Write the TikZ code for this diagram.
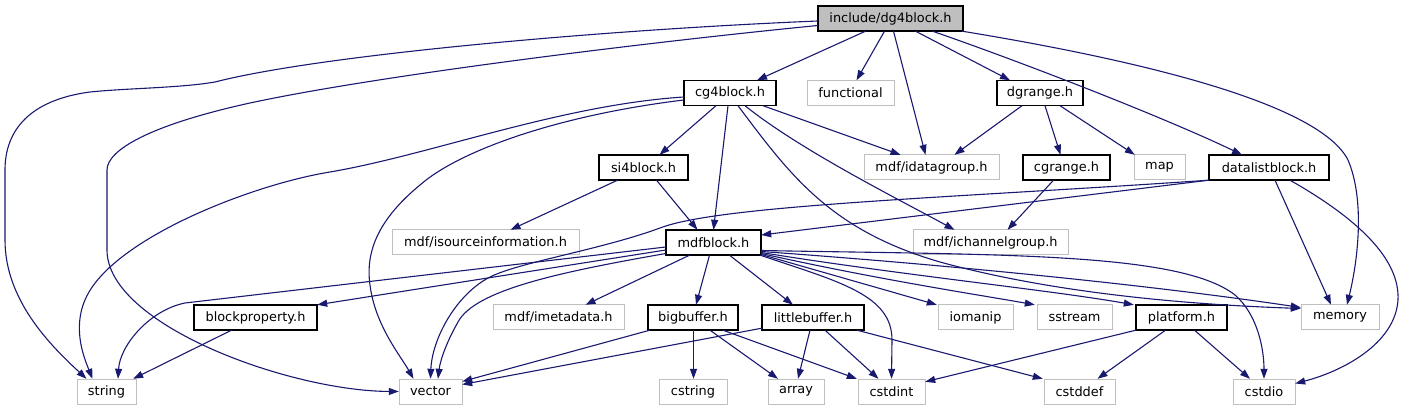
\documentclass[tikz,border=0pt]{standalone}
\usepackage{fontspec}
\setmainfont{DejaVu Sans}
\usetikzlibrary{arrows.meta}
\definecolor{edgeblue}{HTML}{191970}
\definecolor{extgray}{HTML}{BFBFBF}
\tikzset{
  box/.style={rectangle, inner sep=0pt, minimum height=25pt, font=\fontsize{12.9}{15}\selectfont, text=black},
  intbox/.style={box, preaction={draw=black, line width=1.2pt}},
  extbox/.style={box, preaction={draw=extgray, line width=1pt}},
  rootbox/.style={box, preaction={fill=extgray, draw=black, line width=1.2pt}},
  dep/.style={draw=edgeblue, line width=1.1pt, -{Triangle[length=10pt,width=7pt]}},
}
\begin{document}
\begin{tikzpicture}[x=1pt,y=-1pt]
\useasboundingbox (0,0) rectangle (1405,411);
% nodes
\node[rootbox, minimum width=145pt] (D) at (890.5,18.5) {include/dg4block.h};
\node[intbox, minimum width=92pt] (C) at (730,93) {cg4block.h};
\node[extbox, minimum width=87pt] (functional) at (850.5,93) {functional};
\node[intbox, minimum width=86pt] (G) at (1040,93) {dgrange.h};
\node[intbox, minimum width=89pt] (S) at (643.5,167.5) {si4block.h};
\node[extbox, minimum width=135pt] (idg) at (931.5,167.5) {mdf/idatagroup.h};
\node[intbox, minimum width=87pt] (CR) at (1066.5,167.5) {cgrange.h};
\node[extbox, minimum width=51pt] (map) at (1159.5,167.5) {map};
\node[intbox, minimum width=120pt] (L) at (1269,167.5) {datalistblock.h};
\node[extbox, minimum width=187pt] (isi) at (485.5,242.5) {mdf/isourceinformation.h};
\node[intbox, minimum width=95pt] (M) at (713.5,242.5) {mdfblock.h};
\node[extbox, minimum width=155pt] (icg) at (990.5,242.5) {mdf/ichannelgroup.h};
\node[intbox, minimum width=123pt] (BP) at (255.5,317.5) {blockproperty.h};
\node[extbox, minimum width=131pt] (imd) at (558.5,317.5) {mdf/imetadata.h};
\node[intbox, minimum width=90pt] (B) at (693,317.5) {bigbuffer.h};
\node[intbox, minimum width=102pt] (LB) at (813,317.5) {littlebuffer.h};
\node[extbox, minimum width=75pt] (iomanip) at (975.5,317.5) {iomanip};
\node[extbox, minimum width=75pt] (sstream) at (1074.5,317.5) {sstream};
\node[intbox, minimum width=91pt] (P) at (1181.5,317.5) {platform.h};
\node[extbox, minimum width=78pt] (memory) at (1340,317.5) {memory};
\node[extbox, minimum width=59pt] (string) at (106.5,391.5) {string};
\node[extbox, minimum width=63pt] (vector) at (430.5,391.5) {vector};
\node[extbox, minimum width=68pt] (cstring) at (693,391.5) {cstring};
\node[extbox, minimum width=56pt] (array) at (796,391.5) {array};
\node[extbox, minimum width=67pt] (cstdint) at (891.5,391.5) {cstdint};
\node[extbox, minimum width=71pt] (cstddef) at (1079.5,391.5) {cstddef};
\node[extbox, minimum width=62pt] (cstdio) at (1264,391.5) {cstdio};
% edges from include/dg4block.h
\draw[dep] ([yshift=-2.5pt]D.west) .. controls (600,30) and (320,55) .. (215,82) .. controls (180,88) and (130,88) .. (90,92) .. controls (30,100) and (5,130) .. (5,170) -- (5,240) .. controls (5,300) and (50,345) .. ([xshift=-20pt]string.north);
\draw[dep] ([yshift=-7pt]D.west) .. controls (650,42) and (380,75) .. (250,103) .. controls (150,125) and (107,150) .. (107,170) -- (107,250) .. controls (107,325) and (290,391) .. (vector.west);
\draw[dep] ([xshift=-25pt]D.south) -- ([xshift=27pt]C.north);
\draw[dep] ([xshift=-6pt]D.south) -- ([xshift=6pt]functional.north);
\draw[dep] ([xshift=3pt]D.south) -- ([xshift=-6pt]idg.north);
\draw[dep] ([xshift=25pt]D.south) -- ([xshift=-30pt]G.north);
\draw[dep] ([xshift=42pt]D.south) .. controls (1030,65) and (1170,120) .. ([xshift=-27pt]L.north);
\draw[dep] ([xshift=-1pt]D.south east) .. controls (1150,62) and (1320,105) .. (1348,160) .. controls (1365,200) and (1358,260) .. ([xshift=7pt]memory.north);
% edges from cg4block.h
\draw[dep] ([xshift=-14pt]C.south) -- ([xshift=16pt]S.north);
\draw[dep] ([xshift=33pt]C.south) -- ([xshift=-31pt]idg.north);
\draw[dep] ([xshift=-2pt]C.south) -- (M.north);
\draw[dep] ([yshift=-4pt]C.west) .. controls (560,105) and (430,155) .. (330,172) .. controls (250,185) and (110,240) .. (85,300) .. controls (72,330) and (85,360) .. ([xshift=-14pt]string.north);
\draw[dep] ([yshift=-7pt]C.west) .. controls (560,115) and (460,150) .. (420,185) .. controls (380,218) and (365,250) .. (370,285) .. controls (375,325) and (400,355) .. ([xshift=-17pt]vector.north);
\draw[dep] ([xshift=15pt]C.south) .. controls (800,150) and (900,200) .. ([xshift=-36pt]icg.north);
\draw[dep] ([xshift=8pt]C.south) .. controls (790,175) and (830,230) .. (940,262) .. controls (1060,295) and (1200,305) .. ([yshift=9pt]memory.west);
% edges from dgrange.h
\draw[dep] ([xshift=-18pt]G.south) -- ([xshift=23pt]idg.north);
\draw[dep] ([xshift=5pt]G.south) -- ([xshift=-6pt]CR.north);
\draw[dep] ([xshift=20pt]G.south) -- ([xshift=1pt]map.north west);
% si4block.h, cgrange.h
\draw[dep] ([xshift=-26pt]S.south) -- ([xshift=25pt]isi.north);
\draw[dep] ([xshift=13pt]S.south) -- ([xshift=-16pt]M.north);
\draw[dep] ([xshift=-13pt]CR.south) -- ([xshift=17pt]icg.north);
% datalistblock.h
\draw[dep] (L.south west) -- ([yshift=7.5pt]M.east);
\draw[dep] (L.south west) .. controls (950,198) and (720,205) .. (660,228) .. controls (600,250) and (520,262) .. (490,277) .. controls (455,295) and (432,340) .. (vector.north);
\draw[dep] ([xshift=6pt]L.south) -- ([xshift=-9pt]memory.north);
\draw[dep] ([xshift=21pt]L.south) .. controls (1360,220) and (1400,260) .. (1398,300) .. controls (1395,345) and (1340,372) .. ([yshift=8pt]cstdio.east);
% mdfblock.h
\draw[dep] ([yshift=-4.5pt]M.west) -- (185,303) .. controls (150,310) and (120,345) .. ([xshift=11.5pt]string.north);
\draw[dep] ([yshift=-7.5pt]M.west) -- (BP.north east);
\draw[dep] ([yshift=-11pt]M.west) .. controls (560,272) and (475,290) .. (458,322) .. controls (445,345) and (440,362) .. ([xshift=7.5pt]vector.north);
\draw[dep] ([xshift=-24pt]M.south) -- ([xshift=27pt]imd.north);
\draw[dep] ([xshift=-4pt]M.south) -- ([xshift=3pt]B.north);
\draw[dep] ([xshift=16pt]M.south) -- ([xshift=-20pt]LB.north);
\draw[dep] ([xshift=-1pt]M.south east) .. controls (840,282) and (892,295) .. (892,340) -- (cstdint.north);
\draw[dep] ([yshift=-12pt]M.east) -- ([xshift=-1pt]iomanip.north west);
\draw[dep] ([yshift=-11pt]M.east) .. controls (880,280) and (980,295) .. ([xshift=-2pt]sstream.north west);
\draw[dep] ([yshift=-10pt]M.east) .. controls (900,275) and (1050,290) .. ([xshift=-2pt]P.north west);
\draw[dep] ([yshift=-9pt]M.east) .. controls (950,265) and (1150,285) .. ([yshift=10pt]memory.west);
\draw[dep] ([yshift=-8pt]M.east) .. controls (1000,255) and (1180,252) .. (1235,295) .. controls (1258,315) and (1264,350) .. (cstdio.north);
% blockproperty.h
\draw[dep] ([xshift=-24pt]BP.south) -- ([xshift=-3pt]string.north east);
% bigbuffer.h
\draw[dep] ([xshift=2pt]B.south west) -- ([yshift=10pt]vector.east);
\draw[dep] ([xshift=0.5pt]B.south) -- ([xshift=0.5pt]cstring.north);
\draw[dep] ([xshift=17pt]B.south) -- ([xshift=-18pt]array.north);
\draw[dep] ([xshift=30pt]B.south) -- ([xshift=-1pt]cstdint.north west);
% littlebuffer.h
\draw[dep] ([yshift=2pt]LB.south west) -- ([yshift=7pt]vector.east);
\draw[dep] ([xshift=-3pt]LB.south) -- ([xshift=2pt]array.north);
\draw[dep] ([xshift=12pt]LB.south) -- ([xshift=-13pt]cstdint.north);
\draw[dep] ([xshift=44pt]LB.south) -- ([xshift=-1pt]cstddef.north west);
% platform.h
\draw[dep] (P.south west) -- ([yshift=-3pt]cstdint.north east);
\draw[dep] ([xshift=-16pt]P.south) -- ([xshift=18pt]cstddef.north);
\draw[dep] ([xshift=13pt]P.south) -- ([xshift=-14pt]cstdio.north);
\end{tikzpicture}
\end{document}
